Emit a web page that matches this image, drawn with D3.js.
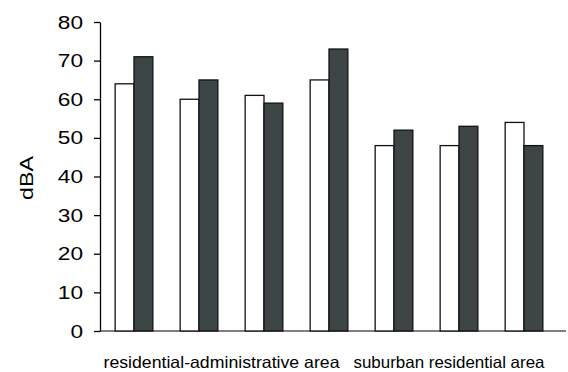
<!DOCTYPE html>
<html><head><meta charset="utf-8">
<script src="https://cdn.jsdelivr.net/npm/d3@7"></script>
<style>body{margin:0;background:#fff}svg{display:block}</style>
</head><body>
<svg id="c" width="568" height="372"></svg>
<script>
const groups = ["g1","g2","g3","g4","g5","g6","g7"];
const seriesA = [64, 60, 61, 65, 48, 48, 54];
const seriesB = [71, 65, 59, 73, 52, 53, 48];
const yTicks = [0,10,20,30,40,50,60,70,80];
const groupLabels = [
  {text:"residential-administrative area", from:0, to:3, len:236},
  {text:"suburban residential area", from:4, to:6, len:191}
];
const svg = d3.select("#c");
const y = d3.scaleLinear().domain([0,80]).range([331,22]);
const x = d3.scaleBand().domain(groups).range([101.5,556.5]).paddingInner(0.42).paddingOuter(0.21);
const inner = d3.scaleBand().domain(["a","b"]).range([0, x.bandwidth()]);
const font = "Liberation Sans, Arial, sans-serif";

// x axis line
svg.append("line").attr("x1",100).attr("x2",566).attr("y1",y(0)).attr("y2",y(0))
  .attr("stroke","#555").attr("stroke-width",1.3);

const g = svg.selectAll("g.grp").data(groups).join("g").attr("class","grp")
  .attr("transform", d=>`translate(${x(d)},0)`);
g.append("rect").attr("x",inner("a")).attr("width",inner.bandwidth())
  .attr("y",(d,i)=>y(seriesA[i])).attr("height",(d,i)=>y(0)-y(seriesA[i]))
  .attr("fill","#fff").attr("stroke","#111").attr("stroke-width",1.3);
g.append("rect").attr("x",inner("b")).attr("width",inner.bandwidth())
  .attr("y",(d,i)=>y(seriesB[i])).attr("height",(d,i)=>y(0)-y(seriesB[i]))
  .attr("fill","#3d4546").attr("stroke","#111").attr("stroke-width",1.3);

// y axis
const ya = svg.append("g").attr("transform","translate(100,0)")
  .call(d3.axisLeft(y).tickValues(yTicks).tickSize(6).tickPadding(11).tickSizeOuter(0));
ya.select(".domain").attr("stroke","#000").attr("stroke-width",1.3);
ya.selectAll(".tick line").attr("stroke","#000").attr("stroke-width",1.3);
ya.selectAll(".tick text").attr("font-family",font).attr("font-size",19).attr("fill","#000")
  .attr("textLength", d=>String(d).length*12.6).attr("lengthAdjust","spacingAndGlyphs");

svg.append("text").attr("transform",`translate(33,178) rotate(-90)`)
  .attr("text-anchor","middle").attr("font-family",font).attr("font-size",19)
  .attr("textLength",44).attr("lengthAdjust","spacingAndGlyphs").text("dBA");

svg.selectAll("text.gl").data(groupLabels).join("text").attr("class","gl")
  .attr("x",d=>(x(groups[d.from]) + x(groups[d.to]) + x.bandwidth())/2 - 10)
  .attr("y",368).attr("text-anchor","middle").attr("font-family",font).attr("font-size",16.5)
  .attr("textLength",d=>d.len).attr("lengthAdjust","spacingAndGlyphs")
  .text(d=>d.text);
</script>
</body></html>
